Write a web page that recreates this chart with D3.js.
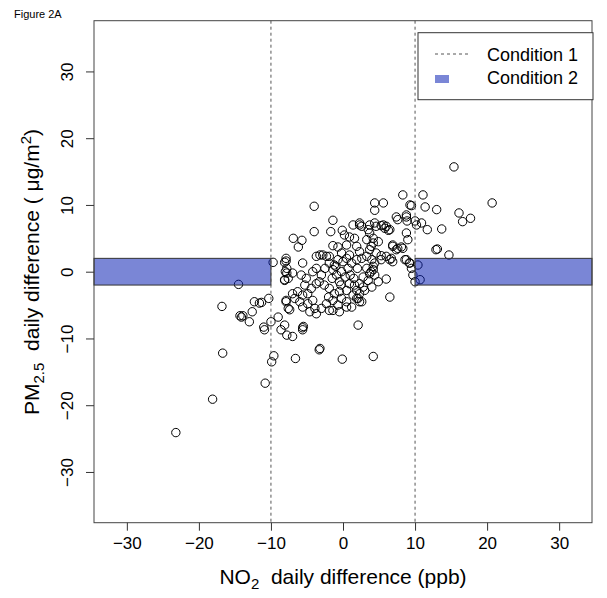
<!DOCTYPE html>
<html><head><meta charset="utf-8">
<script src="https://cdn.jsdelivr.net/npm/d3@7"></script>
<style>body{margin:0;background:#fff;}svg{display:block;font-family:"Liberation Sans",Arial,sans-serif;}</style>
</head><body><svg id="c" width="607" height="598"></svg>
<script>
const xTicks = [-30,-20,-10,0,10,20,30];
const yTicks = [-30,-20,-10,0,10,20,30];
const thresholds = [-10,10];
const bandLimit = 2;
const legendLabels = ["Condition 1","Condition 2"];
const no2Diff = [-23.2,-18.1,-16.7,-16.8,-14.5,-9.7,-12.3,-11.6,-11.3,-10.3,-12.6,-14.3,-14.1,-13.9,-13.0,-11.0,-10.0,-9.0,-8.6,-7.8,-7.9,-7.6,-7.4,-7.9,-8.0,-8.1,-7.8,-9.6,-9.9,-10.9,-7.0,-5.6,-6.6,-3.3,-0.1,4.2,-10.8,-5.5,
15.4,20.7,16.1,16.6,17.7,13.0,13.7,14.7,12.9,13.1,11.1,11.4,11.7,9.5,8.3,10.0,10.2,10.9,10.4,10.7,10.0,9.0,8.8,7.4,7.6,8.8,8.9,4.4,5.6,4.4,6.0,6.5,6.9,7.6,8.1,8.3,4.6,5.3,5.8,6.3,8.6,9.2,9.5,9.7,
-4.0,-1.4,-4.0,-1.7,-6.9,-5.7,-6.2,-0.1,0.2,0.9,1.6,2.3,2.6,3.5,-1.4,-0.7,0.5,1.9,3.3,4.2,4.9,-7.9,-3.7,-2.8,-1.9,-0.2,0.9,2.3,3.7,4.6,
-8.1,-7.8,-7.0,-8.1,-7.6,-5.6,-5.8,-5.1,-5.3,-4.2,-3.7,-3.2,-2.3,-1.9,-1.2,-0.7,-1.4,-0.9,-0.2,0.3,0.7,1.2,1.9,2.6,3.3,4.0,4.4,3.3,3.7,2.8,2.3,1.6,0.9,0.5,-0.5,-1.2,-1.9,-2.6,-3.3,-3.7,-4.4,-4.9,-5.6,-6.3,-7.0,-6.7,-6.0,-5.6,-4.9,-4.2,-3.9,-4.6,-3.7,-3.0,-2.3,-1.9,-1.4,-0.7,-0.2,0.5,1.2,1.9,2.3,2.6,3.0,4.0,4.9,-7.9,-8.1,-5.6,-3.2,2.1,
3.7,4.2,3.9,5.3,6.0,6.5,6.9,4.2,3.9,4.4,5.3,1.4,2.3,3.7,4.4,5.6,6.0,6.5,9.3,8.8,6.9,1.4,1.9,2.1,2.3,2.8,3.5,4.2,6.7,7.4,8.8,9.3,-1.4,-0.5,0.5,
-1.0,0.0,-0.5,1.0,-2.5,-3.0,0.5,2.0,-1.5,1.5,-2.0,-0.3];
const pm25Diff = [-24.1,-19.1,-12.2,-5.2,-1.9,1.4,-4.5,-4.7,-4.6,-4.0,-6.0,-6.6,-6.8,-6.6,-7.5,-8.3,-7.5,-6.8,-8.7,-9.5,-4.5,-5.5,-5.7,1.6,0.0,-1.2,-0.2,-12.6,-13.5,-8.7,-9.7,-8.7,-13.0,-11.7,-13.1,-12.7,-16.7,-8.2,
15.7,10.3,8.8,7.5,8.0,9.3,6.4,2.5,3.3,3.4,11.5,9.7,6.3,9.9,11.5,7.6,7.0,7.3,1.0,-1.2,-1.5,4.8,5.8,8.2,7.8,8.2,7.6,10.3,10.3,9.2,-1.1,-3.8,3.8,3.5,3.7,3.5,6.8,6.9,6.5,6.2,1.8,1.3,0.5,-0.5,
9.8,7.7,6.0,6.0,5.0,4.7,3.7,6.2,5.5,5.2,5.0,7.0,6.8,6.3,3.9,3.7,4.0,3.8,4.8,4.3,4.5,2.0,2.3,2.5,2.3,2.8,2.5,3.0,3.3,2.8,
1.4,0.5,-0.2,-1.3,-1.0,1.3,-0.5,-1.0,-2.0,0.0,0.5,2.5,2.3,1.3,1.0,1.8,0.3,-0.5,0.0,-0.8,0.5,1.3,1.8,2.0,2.3,1.8,1.3,0.5,-0.3,-0.8,-1.8,-2.0,-1.8,-2.8,-3.0,-3.3,-2.5,-2.0,-1.5,-1.8,-2.5,-3.3,-3.5,-3.0,-3.3,-4.0,-4.5,-5.3,-4.8,-4.3,-5.5,-6.0,-6.3,-5.5,-4.8,-5.8,-4.3,-5.0,-4.0,-4.5,-5.3,-4.0,-3.3,-4.5,-2.8,-2.3,-1.5,-4.3,-8.0,-8.4,-11.5,-8.0,
5.8,5.0,3.8,2.4,2.3,1.8,1.5,0.8,0.0,-0.5,1.8,7.0,7.3,7.0,7.3,7.0,6.8,6.3,10.0,8.5,4.0,-3.5,-2.8,-4.0,-4.5,-2.3,-1.3,0.3,2.0,3.3,1.8,1.3,-5.8,-6.0,-5.3,
0.8,1.5,-1.5,-0.5,0.5,-0.5,2.0,0.5,-1.0,-1.0,-3.8,-2.0];

const svg = d3.select("#c");
const L=94,R=592,T=20.7,B=522.7;
const x = d3.scaleLinear().domain([-34.56,34.56]).range([L,R]);
const y = d3.scaleLinear().domain([-37.6,37.6]).range([B,T]);
const pts = no2Diff.map((v,i)=>({x:v,y:pm25Diff[i]}));

svg.append("g").selectAll("circle").data(pts).join("circle")
  .attr("cx",d=>x(d.x)).attr("cy",d=>y(d.y)).attr("r",4.2)
  .attr("fill","none").attr("stroke","#000").attr("stroke-width",1);

const bands = [[x.domain()[0],thresholds[0]],[thresholds[1],x.domain()[1]]];
svg.append("g").selectAll("rect").data(bands).join("rect")
  .attr("x",d=>x(d[0])).attr("width",d=>x(d[1])-x(d[0]))
  .attr("y",y(bandLimit)).attr("height",y(-bandLimit)-y(bandLimit))
  .attr("fill","rgba(13,35,180,0.55)").attr("stroke","#333").attr("stroke-width",1);

svg.append("g").selectAll("line").data(thresholds).join("line")
  .attr("x1",d=>x(d)).attr("x2",d=>x(d)).attr("y1",T).attr("y2",B)
  .attr("stroke","#555").attr("stroke-width",1).attr("stroke-dasharray","3,3");

svg.append("rect").attr("x",L).attr("y",T).attr("width",R-L).attr("height",B-T)
  .attr("fill","none").attr("stroke","#444").attr("stroke-width",1);

const fmt = d=>d<0?"\u2212"+(-d):d;
const xa = svg.append("g").attr("transform",`translate(0,${B})`)
  .call(d3.axisBottom(x).tickValues(xTicks).tickSize(8).tickPadding(6).tickFormat(fmt));
xa.select(".domain").remove();
xa.selectAll("line").attr("stroke","#333");
xa.selectAll("text").attr("font-size",17).attr("fill","#000").attr("font-family","Liberation Sans, Arial, sans-serif");

const ya = svg.append("g").attr("transform",`translate(${L},0)`)
  .call(d3.axisLeft(y).tickValues(yTicks).tickSize(8).tickFormat(fmt));
ya.select(".domain").remove();
ya.selectAll("line").attr("stroke","#333");
ya.selectAll("text").attr("font-size",17).attr("fill","#000").attr("font-family","Liberation Sans, Arial, sans-serif")
  .attr("text-anchor","middle").attr("dy",null).attr("x",null)
  .attr("transform","translate(-27,0) rotate(-90)").attr("y",0).attr("dominant-baseline","central");

const xt = svg.append("text").attr("x",343).attr("y",584).attr("text-anchor","middle").attr("font-size",21);
xt.append("tspan").text("NO");
xt.append("tspan").text("2").attr("font-size",15).attr("dy",5);
xt.append("tspan").text("\u00a0 daily difference (ppb)").attr("dy",-5);

const yt = svg.append("text").attr("transform","translate(39,272) rotate(-90)").attr("text-anchor","middle").attr("font-size",21);
yt.append("tspan").text("PM");
yt.append("tspan").text("2.5").attr("font-size",15).attr("dy",5);
yt.append("tspan").text("\u00a0 daily difference ( \u03bcg/m").attr("dy",-5);
yt.append("tspan").text("2").attr("font-size",15).attr("dy",-8);
yt.append("tspan").text(")").attr("dy",8);

svg.append("text").attr("x",14).attr("y",18).attr("font-size",11).text("Figure 2A");

const lg = svg.append("g");
lg.append("rect").attr("x",418).attr("y",32.7).attr("width",175).attr("height",67)
  .attr("fill","#fff").attr("stroke","#333").attr("stroke-width",1);
lg.append("line").attr("x1",435).attr("x2",470).attr("y1",54).attr("y2",54)
  .attr("stroke","#555").attr("stroke-dasharray","3,3");
lg.append("rect").attr("x",435).attr("y",75).attr("width",14).attr("height",8).attr("fill","rgb(122,134,214)");
lg.selectAll("text.l").data(legendLabels).join("text").attr("class","l")
  .attr("x",487).attr("y",(d,i)=>61+i*23).attr("font-size",18).text(d=>d);
</script></body></html>
